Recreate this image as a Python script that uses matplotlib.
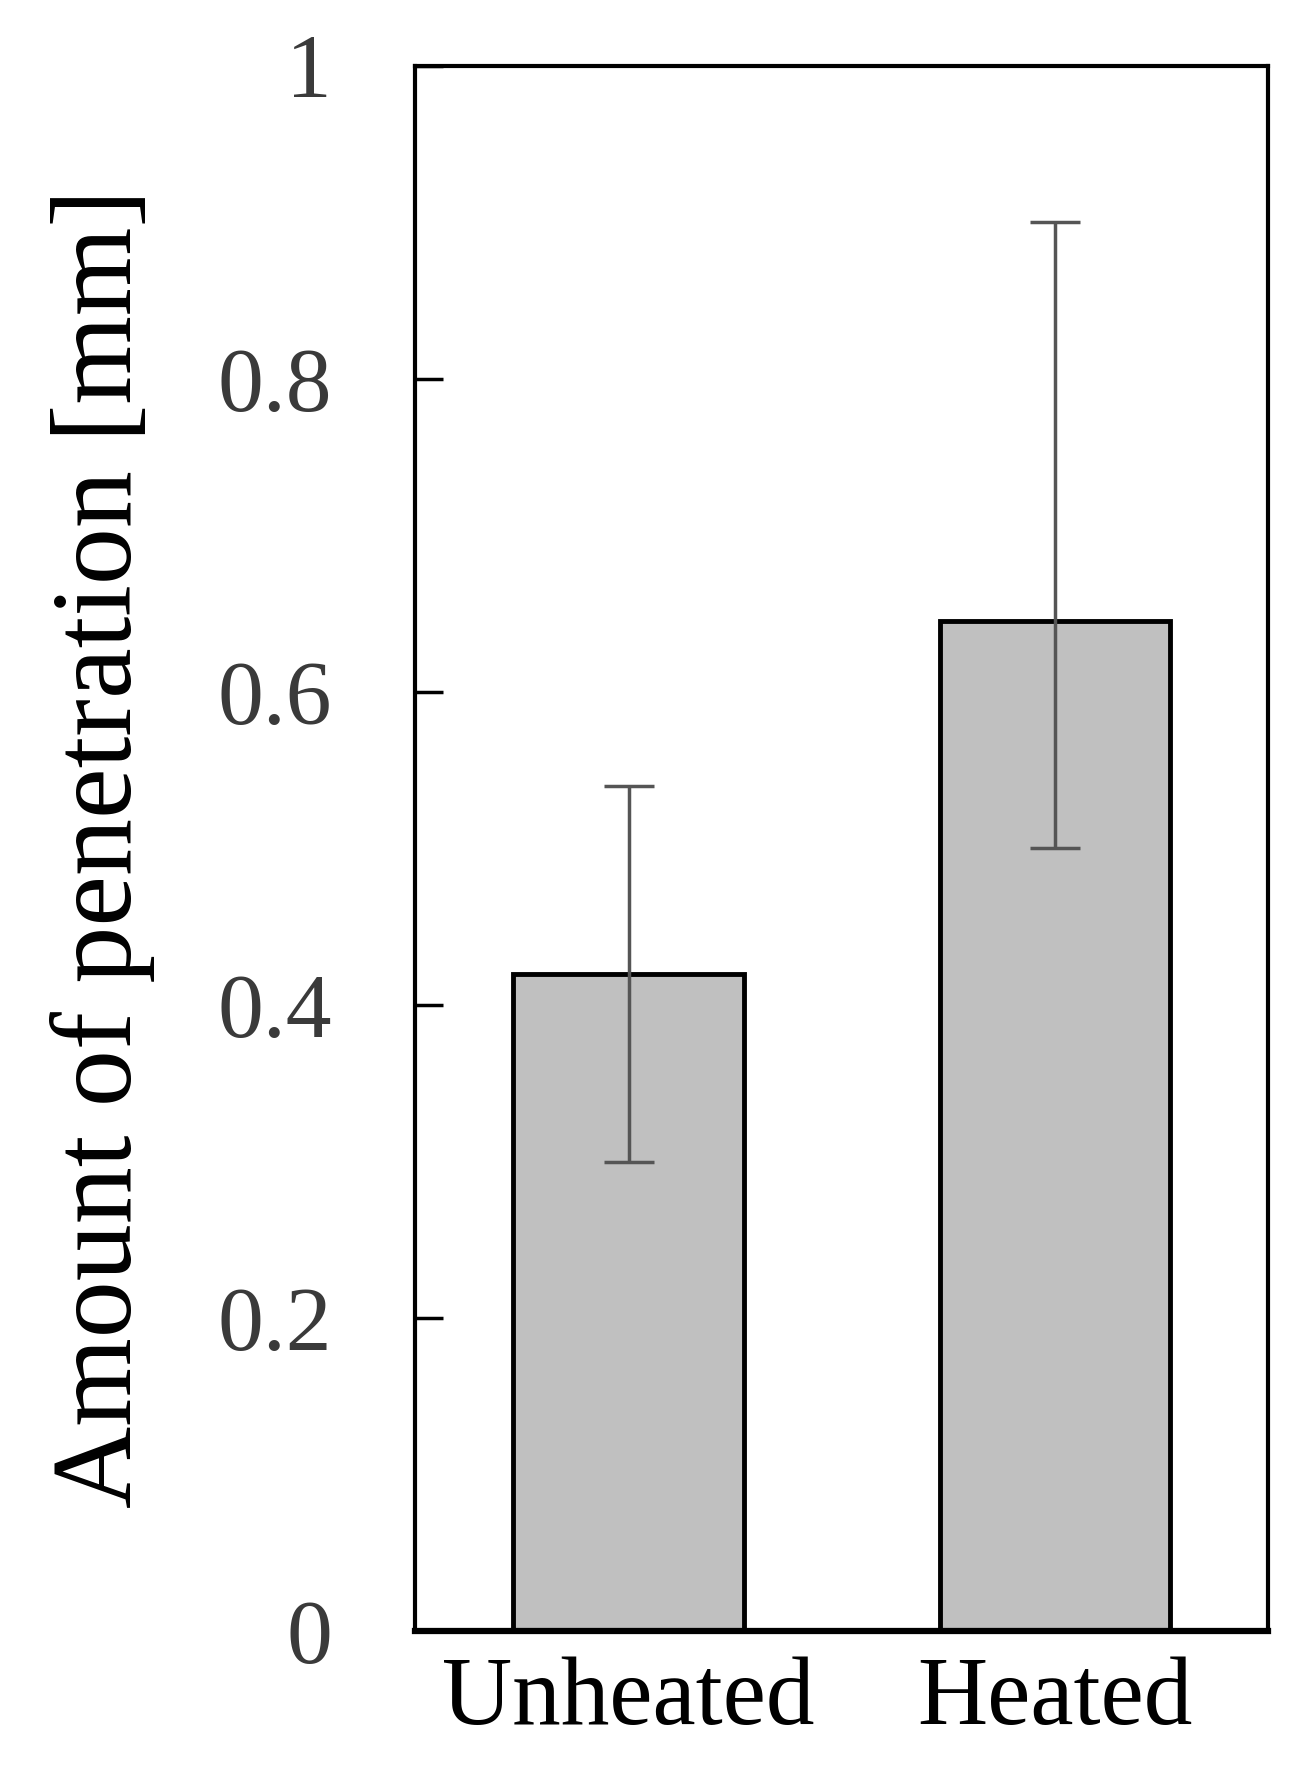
import numpy as np
import matplotlib.pyplot as plt

categories = ['Unheated', 'Heated']
values = [0.42, 0.645]
err_low = [0.12, 0.145]
err_high = [0.12, 0.255]

plt.rcParams['font.family'] = ['Liberation Serif', 'DejaVu Serif']

fig = plt.figure(figsize=(13.02, 17.75), dpi=100)
ax = fig.add_axes([0.319, 0.081, 0.655, 0.882])

x = np.arange(len(categories))
ax.bar(x, values, width=0.54, color='#c0c0c0', edgecolor='black', linewidth=3.5,
       yerr=[err_low, err_high], ecolor='#555555',
       error_kw=dict(elinewidth=2.5, capsize=18, capthick=2.5))

ax.set_xlim(-0.5, 1.5)
ax.set_ylim(0, 1)
ax.set_yticks([0, 0.2, 0.4, 0.6, 0.8, 1])
ax.set_yticklabels(['0', '0.2', '0.4', '0.6', '0.8', '1'])
ax.set_xticks(x)
ax.set_xticklabels(categories)
ax.tick_params(axis='y', direction='in', length=20, width=2.5, labelsize=66, pad=60, colors='black')
ax.tick_params(axis='y', labelcolor='#3a3a3a')
ax.tick_params(axis='x', length=0, labelsize=70, pad=18)
for s in ax.spines.values():
    s.set_linewidth(3)
ax.spines['bottom'].set_linewidth(4.5)
ax.set_ylabel('Amount of penetration [mm]', fontsize=82, labelpad=45)

fig.savefig('out.png', dpi=100)
